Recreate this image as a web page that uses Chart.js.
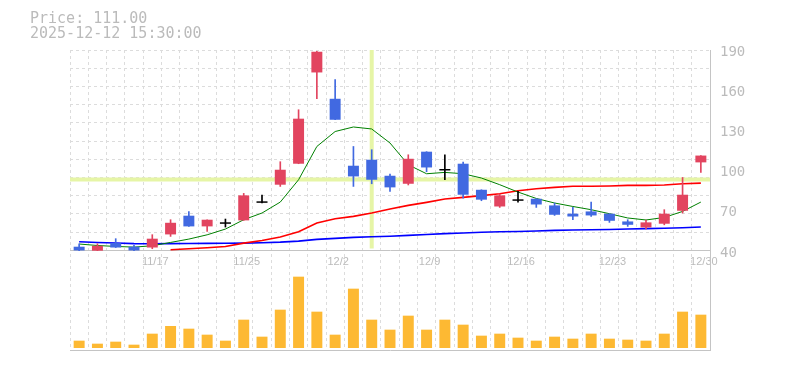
<!DOCTYPE html>
<html>
<head>
<meta charset="utf-8">
<script src="https://cdn.jsdelivr.net/npm/chart.js@4/dist/chart.umd.min.js"></script>
<style>
  html, body { margin: 0; padding: 0; background: #fff; }
  #wrap { position: relative; width: 785px; height: 370px; }
  #wrap canvas { position: absolute; left: 0; top: 0; }
  #info { position: absolute; left: 30px; top: 11px; font: 15px/15px "DejaVu Sans Mono", monospace; color: #bbb; white-space: pre; }
</style>
</head>
<body>
<div id="wrap">
  <canvas id="chart" width="785" height="370"></canvas>
  <div id="info">Price: 111.00<br>2025-12-12 15:30:00</div>
</div>
<script>
// trading days shown on the chart
const dates = ['11/11', '11/12', '11/13', '11/14', '11/17', '11/18', '11/19', '11/20', '11/21',
  '11/25', '11/26', '11/27', '11/28', '12/1', '12/2', '12/3', '12/4', '12/5', '12/8', '12/9',
  '12/10', '12/11', '12/12', '12/15', '12/16', '12/17', '12/18', '12/19', '12/22', '12/23',
  '12/24', '12/25', '12/26', '12/29', '12/30'];
const dateTicks = ['11/17', '11/25', '12/2', '12/9', '12/16', '12/23', '12/30'];
const priceTicks = [40, 70, 100, 130, 160, 190];

const open  = [42.8, 39.8, 45.5, 42.8, 42.2, 52.0, 66.0, 58.0, 60.5, 62.5, 76.2, 89.2, 104.9, 173.2, 153.5, 103.4, 107.9, 95.9,
  89.9, 113.9, 100.4, 104.9, 85.4, 72.9, 77.7, 78.7, 73.7, 67.5, 69.2, 67.5, 61.7, 57.2, 60.0, 69.7, 105.9];
const high  = [45.0, 45.0, 48.8, 43.8, 51.8, 63.0, 69.0, 63.0, 63.5, 82.7, 81.5, 106.4, 145.3, 189.0, 167.8, 117.8, 115.4, 97.2,
  111.6, 113.9, 111.6, 106.2, 85.4, 82.2, 84.2, 78.7, 75.5, 72.2, 76.2, 67.5, 63.0, 62.8, 70.5, 94.6, 111.0];
const low   = [39.5, 39.5, 42.2, 39.5, 41.3, 50.5, 58.0, 54.2, 57.5, 62.5, 75.5, 87.9, 104.9, 153.5, 137.8, 87.9, 89.9, 84.2,
  89.0, 98.9, 92.9, 79.2, 77.2, 72.2, 76.2, 72.2, 66.2, 63.0, 65.4, 61.0, 58.0, 56.2, 59.2, 68.0, 98.4];
const close = [40.0, 43.5, 42.2, 40.0, 48.8, 60.7, 58.0, 63.0, 60.5, 81.2, 76.2, 100.4, 138.6, 188.7, 137.8, 95.4, 92.9, 87.2,
  108.6, 102.1, 100.4, 81.7, 78.0, 81.2, 77.7, 74.4, 66.7, 65.4, 66.2, 62.2, 59.2, 61.0, 67.5, 81.7, 111.0];

const ma5  = [44.8, 43.7, 43.0, 42.5, 43.5, 46.0, 48.5, 51.7, 56.0, 63.0, 68.0, 76.2, 92.9, 117.8, 129.0, 132.4, 130.9, 120.4,
  104.1, 97.4, 98.4, 97.4, 94.2, 89.2, 83.7, 78.9, 75.5, 72.9, 70.5, 67.5, 64.3, 62.8, 64.7, 69.2, 76.2];
const ma25 = [null, null, null, null, null, 40.5, 41.3, 42.0, 43.0, 45.5, 47.5, 50.0, 54.0, 60.5, 63.7, 65.5, 68.0, 71.0,
  73.7, 76.0, 78.5, 79.7, 81.0, 82.4, 84.7, 86.2, 87.2, 88.0, 88.0, 88.2, 88.7, 88.7, 89.0, 89.9, 90.4];
const ma75 = [46.5, 45.9, 45.6, 45.1, 45.0, 45.1, 45.2, 45.3, 45.4, 45.5, 45.8, 46.2, 47.0, 48.3, 49.0, 49.8, 50.2, 50.6,
  51.3, 51.9, 52.6, 53.1, 53.6, 54.0, 54.2, 54.5, 55.0, 55.3, 55.5, 55.7, 56.0, 56.3, 56.6, 57.0, 57.5];

// volume, thousand shares
const volume = [22, 13, 19, 10, 43, 66, 58, 40, 22, 85, 34, 115, 214, 109, 40, 178, 85, 55, 97, 55, 85, 70, 37, 43, 31,
  22, 34, 28, 43, 28, 25, 22, 43, 109, 100];

// cursor position
const crossIndex = 16;
const crossPrice = 93;

const UP = '#e2445f', DOWN = '#4169e1', DOJI = '#000000';
const candleColor = close.map((c, i) => c > open[i] ? UP : (c < open[i] ? DOWN : DOJI));
const priceClip = { left: 0, top: 0, right: 0, bottom: -99 };
const GRID = '#dcdcdc', AXIS = '#c4c4c4', TEXT = '#bbbbbb';

const crosshair = {
  id: 'crosshair',
  beforeDatasetsDraw(chart) {
    const { ctx, chartArea, scales } = chart;
    const px = scales.x.getPixelForValue(crossIndex);
    const py = scales.y.getPixelForValue(crossPrice);
    ctx.save();
    ctx.strokeStyle = '#e6f5a6';
    ctx.lineWidth = 4;
    ctx.beginPath();
    ctx.moveTo(chartArea.left, py);
    ctx.lineTo(chartArea.right, py);
    ctx.moveTo(px, chartArea.top);
    ctx.lineTo(px, scales.y.getPixelForValue(priceTicks[0]) - 2);
    ctx.stroke();
    ctx.restore();
  }
};

new Chart(document.getElementById('chart'), {
  type: 'bar',
  data: {
    labels: dates,
    datasets: [
      { type: 'bar', data: volume, yAxisID: 'yv', backgroundColor: '#fdb933',
        barPercentage: 0.6, categoryPercentage: 1, grouped: false, order: 20 },
      { type: 'line', data: ma75, yAxisID: 'y', borderColor: '#0000ff', borderWidth: 1.6,
        pointRadius: 0, clip: priceClip, order: 12 },
      { type: 'line', data: ma25, yAxisID: 'y', borderColor: '#ff0000', borderWidth: 1.6,
        pointRadius: 0, clip: priceClip, order: 11 },
      { type: 'line', data: ma5, yAxisID: 'y', borderColor: '#008000', borderWidth: 1,
        pointRadius: 0, clip: priceClip, order: 10 },
      { type: 'bar', data: dates.map((d, i) => [low[i], high[i]]), yAxisID: 'y',
        backgroundColor: candleColor, barThickness: 1, grouped: false, clip: priceClip, order: 5 },
      { type: 'bar', data: dates.map((d, i) => open[i] === close[i] ? null : [open[i], close[i]]), yAxisID: 'y',
        backgroundColor: candleColor, barPercentage: 0.6, categoryPercentage: 1, grouped: false,
        clip: priceClip, order: 3 },
      { type: 'line', data: dates.map((d, i) => open[i] === close[i] ? close[i] : null), yAxisID: 'y',
        showLine: false, pointStyle: 'line', pointRadius: 5.5, borderColor: DOJI, borderWidth: 1.5, order: 1 }
    ]
  },
  options: {
    responsive: false,
    devicePixelRatio: 1,
    animation: false,
    events: [],
    layout: { padding: { left: 70, top: 50, right: 0, bottom: 20 } },
    plugins: { legend: { display: false }, tooltip: { enabled: false } },
    scales: {
      x: {
        type: 'category',
        position: { y: 40 },
        offset: true,
        grid: { offset: true, color: GRID, drawTicks: false },
        border: { display: true, color: AXIS, dash: [3, 3] },
        ticks: {
          autoSkip: false, maxRotation: 0, minRotation: 0, padding: 5, labelOffset: 3,
          color: TEXT, font: { family: 'Liberation Sans', size: 11 },
          callback: (v, i) => dateTicks.includes(dates[i]) ? dates[i] : ''
        }
      },
      x2: {
        type: 'category',
        position: 'bottom',
        offset: true,
        grid: { display: false, drawTicks: false },
        border: { display: true, color: AXIS },
        ticks: { display: false },
        afterFit: s => { s.height = 0; }
      },
      y: {
        position: 'right',
        min: -34.5,
        max: 190,
        grid: { display: false, drawTicks: false },
        border: { display: true, color: AXIS },
        afterBuildTicks: s => { s.ticks = priceTicks.map(v => ({ value: v })); },
        afterFit: s => { s.width = 75; },
        ticks: { padding: 10, labelOffset: 2.5, color: TEXT,
          font: { family: 'DejaVu Sans Mono', size: 14 } }
      },
      gy: {
        type: 'linear',
        position: 'left',
        min: -5.47,
        max: 11,
        grid: { color: GRID, drawTicks: false },
        border: { display: false, dash: [3, 3] },
        ticks: { display: false },
        afterBuildTicks: s => { s.ticks = [1, 2, 3, 4, 5, 6, 7, 8, 9, 10, 11].map(v => ({ value: v })); },
        afterFit: s => { s.width = 0; }
      },
      yv: {
        type: 'linear',
        display: false,
        min: -6,
        max: 894
      }
    }
  },
  plugins: [crosshair]
});
</script>
</body>
</html>
